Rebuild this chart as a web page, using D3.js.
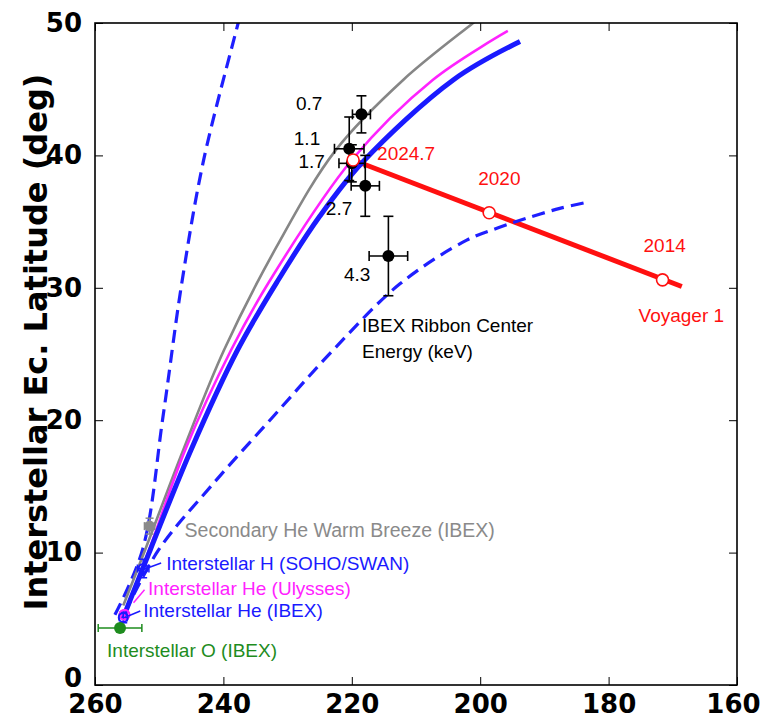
<!DOCTYPE html>
<html>
<head>
<meta charset="utf-8">
<script src="https://cdn.jsdelivr.net/npm/d3@7"></script>
<style>
  html, body { margin: 0; padding: 0; background: #fff; }
  svg { display: block; }
</style>
</head>
<body>
<svg id="chart" width="764" height="719"></svg>
<script>
// ---------------- data ----------------
const xTicks = [260, 240, 220, 200, 180, 160];
const yTicks = [0, 10, 20, 30, 40, 50];

// curves: [longitude, latitude]
const grayCurve = [[255.6,6.0],[252.2,10.2],[246.3,17.7],[239.9,25.3],[231.6,33.2],[222.5,40.4],[212.0,45.7],[201.1,50.0],[198.5,51.0]];
const magentaCurve = [[255.3,5.5],[251.5,10.3],[246.0,17.7],[238.8,25.3],[232.9,30.44],[220.0,39.65],[207.4,45.7],[195.7,49.4]];
const blueCurve = [[255.6,5.1],[251.4,10.2],[245.1,17.7],[237.8,25.3],[231.65,30.44],[225.0,35.4],[218.3,39.5],[204.2,45.7],[193.8,48.6]];
const dashLeft = [[256.9,5.3],[252.6,10.2],[249.4,20.3],[246.5,30.3],[243.1,39.6],[237.7,50.0],[237.3,50.8]];
const dashRight = [[255.3,5.5],[250.1,10.2],[241.6,15.2],[232.2,20.3],[222.9,25.3],[212.5,30.3],[202.1,33.6],[197.4,34.5],[192.8,35.25],[187.6,36.0],[183.4,36.46]];

// IBEX ribbon centers by energy
const ribbonEnergy = ["0.7", "1.1", "1.7", "2.7", "4.3"];
const ribbonLon = [218.5, 220.4, 220.0, 217.9, 214.3];
const ribbonLat = [43.1, 40.5, 39.4, 37.7, 32.4];
const ribbonErrLon = [1.4, 2.3, 2.0, 2.2, 3.0];
const ribbonErrLat = [1.4, 2.4, 1.4, 2.3, 3.0];

// Voyager 1 track
const voyagerYears = ["2024.7", "2020", "2014"];
const voyagerLon = [219.8, 198.6, 171.6];
const voyagerLat = [39.65, 35.67, 30.6];
const voyagerTrack = [[219.8, 39.65], [168.6, 30.1]];

// interstellar flow measurements
const flowNames = ["Secondary He Warm Breeze (IBEX)", "Interstellar H (SOHO/SWAN)", "Interstellar He (Ulysses)", "Interstellar He (IBEX)", "Interstellar O (IBEX)"];
const flowLon = [251.5, 252.5, 255.4, 255.6, 256.1];
const flowLat = [12.0, 8.8, 5.3, 5.1, 4.3];
const flowErrLon = [0.8, 0.9, 0.5, 0.6, 3.4];
const flowErrLat = [0.6, 0.7, 0.3, 0.4, 0.0];

// ---------------- chart ----------------
const svg = d3.select("#chart");
const L = 95, R = 737, T = 23, B = 685;
const x = d3.scaleLinear().domain([260, 160]).range([L, R]);
const y = d3.scaleLinear().domain([0, 50]).range([B, T]);
const textFont = "Liberation Sans, Arial, sans-serif";

svg.append("defs").append("clipPath").attr("id", "clip")
  .append("rect").attr("x", L).attr("y", T).attr("width", R - L).attr("height", B - T);

const plot = svg.append("g").attr("clip-path", "url(#clip)");
const line = d3.line().x(d => x(d[0])).y(d => y(d[1])).curve(d3.curveCatmullRom.alpha(0.5));

// Voyager track
plot.append("path").datum(voyagerTrack)
  .attr("d", d3.line().x(d => x(d[0])).y(d => y(d[1])))
  .attr("fill", "none").attr("stroke", "#ff1010").attr("stroke-width", 5);

// dashed envelopes
[dashLeft, dashRight].forEach(c => {
  plot.append("path").datum(c).attr("d", line)
    .attr("fill", "none").attr("stroke", "#1f1fff").attr("stroke-width", 3.2)
    .attr("stroke-dasharray", "13,7");
});
// solid curves
plot.append("path").datum(grayCurve).attr("d", line)
  .attr("fill", "none").attr("stroke", "#868686").attr("stroke-width", 2.6);
plot.append("path").datum(magentaCurve).attr("d", line)
  .attr("fill", "none").attr("stroke", "#ff22ff").attr("stroke-width", 2.6);
plot.append("path").datum(blueCurve).attr("d", line)
  .attr("fill", "none").attr("stroke", "#1a1aff").attr("stroke-width", 5);

// error bar helper
function errBar(g, lon, lat, eLon, eLat, color, sw, cap) {
  if (eLat > 0) {
    g.append("line").attr("x1", x(lon)).attr("x2", x(lon)).attr("y1", y(lat - eLat)).attr("y2", y(lat + eLat))
      .attr("stroke", color).attr("stroke-width", sw);
    [lat - eLat, lat + eLat].forEach(v => g.append("line")
      .attr("x1", x(lon) - cap).attr("x2", x(lon) + cap).attr("y1", y(v)).attr("y2", y(v))
      .attr("stroke", color).attr("stroke-width", sw));
  }
  if (eLon > 0) {
    g.append("line").attr("x1", x(lon - eLon)).attr("x2", x(lon + eLon)).attr("y1", y(lat)).attr("y2", y(lat))
      .attr("stroke", color).attr("stroke-width", sw);
    [lon - eLon, lon + eLon].forEach(v => g.append("line")
      .attr("x1", x(v)).attr("x2", x(v)).attr("y1", y(lat) - cap).attr("y2", y(lat) + cap)
      .attr("stroke", color).attr("stroke-width", sw));
  }
}

// ribbon points
const rib = svg.append("g");
ribbonEnergy.forEach((e, i) => {
  errBar(rib, ribbonLon[i], ribbonLat[i], ribbonErrLon[i], ribbonErrLat[i], "#000", 1.6, 5);
  rib.append("circle").attr("cx", x(ribbonLon[i])).attr("cy", y(ribbonLat[i])).attr("r", 6).attr("fill", "#000");
});
const ribLabelOff = [[-39, -4], [-29, -4], [-27, 5], [-13, 29], [-18, 25]];
ribbonEnergy.forEach((e, i) => {
  rib.append("text").attr("x", x(ribbonLon[i]) + ribLabelOff[i][0]).attr("y", y(ribbonLat[i]) + ribLabelOff[i][1])
    .attr("text-anchor", "end").attr("font-family", textFont).attr("font-size", 19)
    .attr("fill", "#000").text(e);
});
svg.append("text").attr("x", x(218.4)).attr("y", y(26.66)).attr("font-family", textFont)
  .attr("font-size", 19).text("IBEX Ribbon Center");
svg.append("text").attr("x", x(218.4)).attr("y", y(24.7)).attr("font-family", textFont)
  .attr("font-size", 19).text("Energy (keV)");

// flow measurements
const flowColors = ["#8a8a8a", "#1a1aff", "#ff22ff", "#1a1aff", "#1e8c1e"];
const fl = svg.append("g");
flowNames.forEach((n, i) => {
  errBar(fl, flowLon[i], flowLat[i], flowErrLon[i], flowErrLat[i], flowColors[i], 1.5, 4);
});
fl.append("circle").attr("cx", x(flowLon[0])).attr("cy", y(flowLat[0])).attr("r", 5.5).attr("fill", flowColors[0]);
fl.append("circle").attr("cx", x(flowLon[1])).attr("cy", y(flowLat[1])).attr("r", 4.5).attr("fill", "none").attr("stroke", flowColors[1]).attr("stroke-width", 2);
fl.append("circle").attr("cx", x(flowLon[2])).attr("cy", y(flowLat[2])).attr("r", 5).attr("fill", "none").attr("stroke", flowColors[2]).attr("stroke-width", 2);
fl.append("circle").attr("cx", x(flowLon[3])).attr("cy", y(flowLat[3])).attr("r", 4.5).attr("fill", "none").attr("stroke", flowColors[3]).attr("stroke-width", 2);
fl.append("circle").attr("cx", x(flowLon[4])).attr("cy", y(flowLat[4])).attr("r", 6).attr("fill", flowColors[4]);

// labels with leaders (offsets in px from point)
const flowLabelOff = [[35, 11], [23, 1.5], [23.5, -20], [20, 0], [-13, 29]];
const leaderFrom = [null, [18, -5.5], [20, -25], [17, -6.5], null];
const leaderTo = [null, [3, 0], [9, -12], [5, -1.5], null];
flowNames.forEach((n, i) => {
  fl.append("text").attr("x", x(flowLon[i]) + flowLabelOff[i][0]).attr("y", y(flowLat[i]) + flowLabelOff[i][1])
    .attr("font-family", textFont).attr("font-size", i === 0 ? 19.5 : 19)
    .attr("fill", flowColors[i]).text(n);
  if (leaderFrom[i]) {
    fl.append("line")
      .attr("x1", x(flowLon[i]) + leaderFrom[i][0]).attr("y1", y(flowLat[i]) + leaderFrom[i][1])
      .attr("x2", x(flowLon[i]) + leaderTo[i][0]).attr("y2", y(flowLat[i]) + leaderTo[i][1])
      .attr("stroke", flowColors[i]).attr("stroke-width", 1.5);
  }
});

// Voyager circles and labels
const vg = svg.append("g");
voyagerYears.forEach((yr, i) => {
  vg.append("circle").attr("cx", x(voyagerLon[i])).attr("cy", y(voyagerLat[i])).attr("r", 6)
    .attr("fill", "#fff").attr("stroke", "#ff1010").attr("stroke-width", 1.6);
});
const vOff = [[24, 0], [-11, -28], [-19, -28]];
voyagerYears.forEach((yr, i) => {
  vg.append("text").attr("x", x(voyagerLon[i]) + vOff[i][0]).attr("y", y(voyagerLat[i]) + vOff[i][1])
    .attr("font-family", textFont).attr("font-size", 19)
    .attr("fill", "#ff1010").text(yr);
});
vg.append("text").attr("x", x(voyagerLon[2]) - 24).attr("y", y(voyagerLat[2]) + 42)
  .attr("font-family", textFont).attr("font-size", 19)
  .attr("fill", "#ff1010").text("Voyager 1");

// axes
const fontAx = "DejaVu Sans, sans-serif";
const xAxis = svg.append("g").attr("transform", `translate(0,${B})`)
  .call(d3.axisBottom(x).tickValues(xTicks).tickSizeInner(-8).tickSizeOuter(0).tickPadding(10).tickFormat(d3.format("d")));
const xTop = svg.append("g").attr("transform", `translate(0,${T})`)
  .call(d3.axisTop(x).tickValues(xTicks).tickSizeInner(-8).tickSizeOuter(0).tickFormat(""));
const yAxis = svg.append("g").attr("transform", `translate(${L},0)`)
  .call(d3.axisLeft(y).tickValues(yTicks).tickSizeInner(-8).tickSizeOuter(0).tickPadding(13).tickFormat(d3.format("d")));
const yRight = svg.append("g").attr("transform", `translate(${R},0)`)
  .call(d3.axisRight(y).tickValues(yTicks).tickSizeInner(-8).tickSizeOuter(0).tickFormat(""));
[xAxis, xTop, yAxis, yRight].forEach(a => {
  a.selectAll(".domain").remove();
  a.selectAll(".tick line").attr("stroke", "#000").attr("stroke-width", 1);
  a.selectAll("text").attr("font-family", fontAx).attr("font-weight", "bold").attr("font-size", 26).attr("fill", "#000");
});
// keep the last x label inside the window, and lift the "0" label above the x labels
xAxis.selectAll(".tick").filter(d => d === 160).select("text").attr("dx", "-4");
yAxis.selectAll(".tick").filter(d => d === 0).select("text").attr("dy", "0.05em");
svg.append("rect").attr("x", L).attr("y", T).attr("width", R - L).attr("height", B - T)
  .attr("fill", "none").attr("stroke", "#000").attr("stroke-width", 1.6);

// y title
svg.append("text").attr("transform", `translate(47,342) rotate(-90)`)
  .attr("text-anchor", "middle").attr("font-family", fontAx).attr("font-weight", "bold").attr("font-size", 32)
  .text("Interstellar Ec. Latitude (deg)");
</script>
</body>
</html>
